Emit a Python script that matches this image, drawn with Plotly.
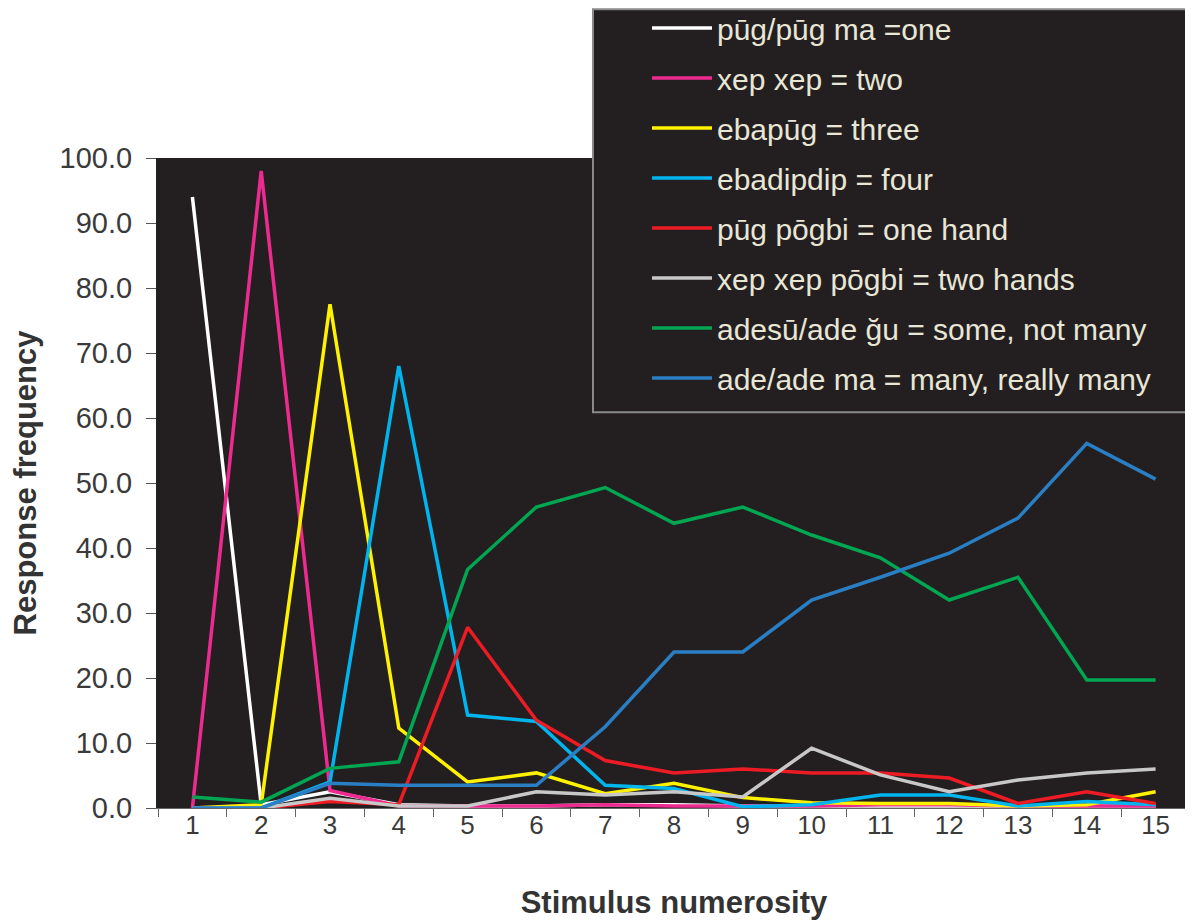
import plotly.graph_objects as go

## DATA ##
numerosity = [str(n) for n in range(1, 16)]

one = [94.0, 0.5, 2.5, 0.5, 0.3, 0.3, 0.5, 0.5, 0.3, 0.3, 0.3, 0.3, 0.3, 0.3, 0.3]
two = [0.0, 98.0, 2.7, 0.3, 0.3, 0.3, 0.5, 0.3, 0.3, 0.3, 0.5, 0.5, 0.3, 0.3, 0.3]
three = [0.0, 0.5, 77.5, 12.3, 4.0, 5.4, 2.2, 3.8, 1.6, 0.8, 0.7, 0.7, 0.3, 0.5, 2.5]
four = [0.0, 0.0, 4.0, 68.0, 14.3, 13.3, 3.5, 3.0, 0.2, 0.5, 2.0, 2.0, 0.3, 1.0, 0.5]
one_hand = [0.0, 0.0, 1.0, 0.5, 27.8, 13.5, 7.3, 5.4, 6.0, 5.4, 5.4, 4.6, 0.7, 2.5, 0.7]
two_hands = [0.0, 0.0, 1.5, 0.3, 0.3, 2.5, 2.0, 2.5, 1.7, 9.2, 5.1, 2.5, 4.3, 5.4, 6.0]
some = [1.7, 0.9, 6.1, 7.1, 36.7, 46.3, 49.3, 43.8, 46.3, 42.0, 38.5, 32.0, 35.5, 19.7, 19.7]
many = [0.0, 0.0, 3.8, 3.5, 3.5, 3.5, 12.5, 24.0, 24.0, 32.0, 35.5, 39.2, 44.6, 56.1, 50.6]

series_names = [
    "pūg/pūg ma =one",
    "xep xep = two",
    "ebapūg = three",
    "ebadipdip = four",
    "pūg pōgbi = one hand",
    "xep xep pōgbi = two hands",
    "adesū/ade ğu = some, not many",
    "ade/ade ma = many, really many",
]
series_values = [one, two, three, four, one_hand, two_hands, some, many]

## PARAMS ##
colors = ["#ffffff", "#ec2a90", "#fff200", "#00b4ee", "#ed1c24", "#c8c8c8", "#00a651", "#2a7fc4"]
bg_dark = "#231f20"
font_family = "Liberation Sans, Arial, sans-serif"

fig = go.Figure()
for i, (name, vals) in enumerate(zip(series_names, series_values)):
    fig.add_trace(go.Scatter(
        x=numerosity,
        y=vals,
        name=name,
        mode="lines",
        line=dict(color=colors[i], width=3.5),
        legendgroup=f"g{i}",
    ))

# riquadro della legenda (la legenda vera resta trasparente sopra)
fig.add_shape(
    type="rect", xref="paper", yref="paper",
    x0=0.4215, x1=1.0, y0=0.609, y1=1.229,
    fillcolor=bg_dark,
    line=dict(color="#8a8a8a", width=2),
    layer="above",
)

fig.update_layout(
    width=1185,
    height=912,
    margin=dict(l=150, r=3, t=150, b=112, autoexpand=False),
    paper_bgcolor="white",
    plot_bgcolor=bg_dark,
    font=dict(family=font_family, size=26, color="#3a3a3a"),
    showlegend=True,
    legend=dict(
        x=0.4215,
        y=1.240,
        xanchor="left",
        yanchor="top",
        bgcolor="rgba(0,0,0,0)",
        borderwidth=0,
        font=dict(family=font_family, size=30, color="#e8e6d6"),
        tracegroupgap=8,
        indentation=54,
        itemwidth=60,
        traceorder="grouped",
    ),
    xaxis=dict(
        type="category",
        range=[-0.5, 14.5],
        tickson="boundaries",
        ticks="outside",
        ticklen=8,
        tickwidth=1,
        tickcolor="#666666",
        ticklabelstandoff=-6,
        showgrid=False,
        showline=True,
        linecolor="#666666",
        zeroline=False,
        tickfont=dict(size=26, color="#3a3a3a"),
        title=dict(
            text="<b>Stimulus numerosity</b>",
            font=dict(size=31, color="#333333"),
            standoff=54,
        ),
    ),
    yaxis=dict(
        range=[0, 100],
        dtick=10,
        tickformat=".1f",
        ticks="outside",
        ticklen=10,
        tickwidth=1,
        tickcolor="#555555",
        ticklabelstandoff=8,
        showgrid=False,
        showline=True,
        linewidth=2,
        linecolor="#222222",
        zeroline=False,
        tickfont=dict(size=29, color="#3a3a3a"),
        title=dict(
            text="<b>Response frequency</b>",
            font=dict(size=31, color="#333333"),
            standoff=18,
        ),
    ),
)

fig.write_html("out.html")
